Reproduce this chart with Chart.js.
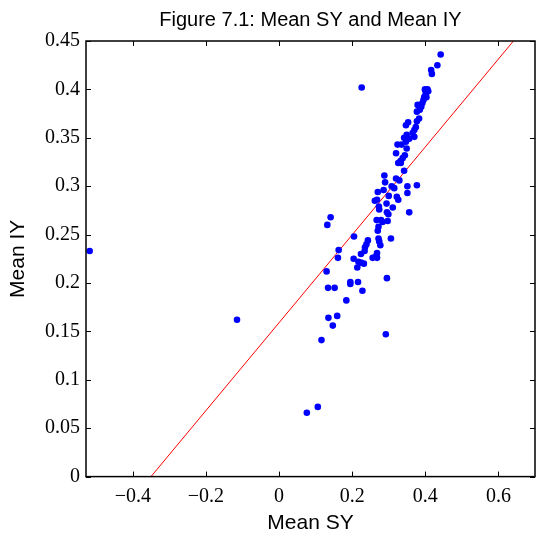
<!DOCTYPE html>
<html>
<head>
<meta charset="utf-8">
<script src="https://cdn.jsdelivr.net/npm/chart.js@4/dist/chart.umd.min.js"></script>
<style>
html,body{margin:0;padding:0;background:#fff;}
canvas{display:block;}
</style>
</head>
<body>
<canvas id="c" width="539" height="539"></canvas>
<script>
const meanSY = [0.442,0.433,0.416,0.418,0.226,0.399,0.406,0.401,0.408,0.401,0.397,0.403,0.395,0.392,0.379,0.389,0.385,0.377,0.383,0.377,0.353,0.347,0.374,0.370,0.365,0.370,0.349,0.342,0.356,0.347,0.335,0.324,0.349,0.320,0.344,0.338,0.332,0.326,0.333,0.342,0.288,0.320,0.329,0.290,0.351,0.377,0.308,0.315,0.270,0.286,0.351,0.300,0.322,0.326,0.268,0.262,0.294,0.273,0.274,0.311,0.295,0.299,0.356,0.141,0.132,0.267,0.279,0.283,0.297,0.272,0.270,0.205,0.243,0.239,0.235,0.234,0.224,0.272,0.274,0.277,0.306,0.163,0.161,0.268,0.266,0.256,0.268,0.204,0.217,0.224,0.232,0.214,0.130,0.295,0.195,0.195,0.216,0.134,0.152,0.228,0.184,0.135,0.159,0.147,0.116,0.292,0.076,0.106,-0.115,-0.518];
const meanIY = [0.436,0.425,0.420,0.416,0.402,0.400,0.400,0.398,0.398,0.395,0.392,0.392,0.389,0.386,0.384,0.382,0.379,0.377,0.370,0.367,0.366,0.363,0.361,0.358,0.355,0.351,0.353,0.350,0.349,0.346,0.343,0.343,0.339,0.334,0.332,0.329,0.326,0.324,0.324,0.316,0.311,0.308,0.306,0.304,0.300,0.301,0.300,0.298,0.294,0.296,0.293,0.290,0.289,0.286,0.286,0.285,0.282,0.279,0.276,0.278,0.273,0.271,0.273,0.268,0.260,0.265,0.265,0.263,0.264,0.258,0.254,0.248,0.244,0.240,0.237,0.233,0.230,0.246,0.243,0.239,0.246,0.234,0.226,0.231,0.228,0.226,0.226,0.225,0.222,0.221,0.220,0.216,0.212,0.205,0.201,0.199,0.201,0.195,0.195,0.192,0.182,0.164,0.166,0.156,0.141,0.147,0.066,0.072,0.162,0.233];
const fitSY = [-0.3502, 0.641];
const fitIY = [0, 0.45];
const xTicks = [-0.4,-0.2,0,0.2,0.4,0.6];
const yTicks = [0,0.05,0.1,0.15,0.2,0.25,0.3,0.35,0.4,0.45];
const xRange = [-0.528, 0.7];
const yRange = [0, 0.45];

const fmt = v => {
  const s = String(Number(Math.abs(v).toFixed(2)));
  return v < 0 ? '\u2212' + s : s;
};

const framePlugin = {
  id: 'frame',
  afterLayout(chart) {
    const t = chart.titleBlock;
    if (t) { t.left = chart.chartArea.left; t.right = chart.chartArea.right; }
  },
  afterDatasetsDraw(chart) {
    const {ctx, chartArea: a, scales: {x, y}} = chart;
    ctx.save();
    ctx.strokeStyle = '#000';
    ctx.lineWidth = 1;
    const L = 5;
    ctx.beginPath();
    x.ticks.forEach(tk => {
      const px = Math.round(x.getPixelForValue(tk.value)) + 0.5;
      ctx.moveTo(px, a.bottom); ctx.lineTo(px, a.bottom - L);
      ctx.moveTo(px, a.top); ctx.lineTo(px, a.top + L);
    });
    y.ticks.forEach(tk => {
      const py = Math.round(y.getPixelForValue(tk.value)) + 0.5;
      ctx.moveTo(a.left, py); ctx.lineTo(a.left + L, py);
      ctx.moveTo(a.right, py); ctx.lineTo(a.right - L, py);
    });
    ctx.stroke();
    ctx.lineWidth = 1.5;
    ctx.strokeRect(a.left, a.top, a.right - a.left, a.bottom - a.top);
    ctx.restore();
  }
};

new Chart(document.getElementById('c'), {
  type: 'scatter',
  data: {
    datasets: [
      {
        label: 'Mean SY vs Mean IY',
        data: meanSY.map((v, i) => ({x: v, y: meanIY[i]})),
        backgroundColor: '#0000ff',
        borderWidth: 0,
        pointRadius: 3.3,
        pointStyle: 'circle'
      },
      {
        type: 'line',
        label: 'Fit',
        data: fitSY.map((v, i) => ({x: v, y: fitIY[i]})),
        borderColor: '#ff0000',
        borderWidth: 1,
        pointRadius: 0,
        fill: false
      }
    ]
  },
  options: {
    responsive: false,
    animation: false,
    devicePixelRatio: 1,
    layout: {padding: {left: 0, right: 1.5, top: 0, bottom: 0}},
    plugins: {
      legend: {display: false},
      tooltip: {enabled: false},
      title: {
        display: true,
        text: 'Figure 7.1: Mean SY and Mean IY',
        color: '#000',
        font: {family: 'Liberation Sans, Arial, sans-serif', size: 20, weight: 'normal', lineHeight: 1.2},
        padding: {top: 8, bottom: 9}
      }
    },
    scales: {
      x: {
        type: 'linear',
        min: xRange[0], max: xRange[1],
        afterBuildTicks: s => { s.ticks = xTicks.map(v => ({value: v})); },
        afterFit: s => { s.height = 62.4; },
        grid: {display: false, drawTicks: false},
        border: {display: false},
        ticks: {
          color: '#000', padding: 8, maxRotation: 0, autoSkip: false,
          font: {family: 'Liberation Serif, Times New Roman, serif', size: 20},
          callback: v => fmt(v)
        },
        title: {
          display: true, text: 'Mean SY', color: '#000',
          font: {family: 'Liberation Sans, Arial, sans-serif', size: 21},
          padding: {top: 2, bottom: 3.6}
        }
      },
      y: {
        type: 'linear',
        min: yRange[0], max: yRange[1],
        afterBuildTicks: s => { s.ticks = yTicks.map(v => ({value: v})); },
        afterFit: s => { s.width = 86; },
        grid: {display: false, drawTicks: false},
        border: {display: false},
        ticks: {
          color: '#000', padding: 6, autoSkip: false,
          font: {family: 'Liberation Serif, Times New Roman, serif', size: 20},
          callback: v => fmt(v)
        },
        title: {
          display: true, text: 'Mean IY', color: '#000',
          font: {family: 'Liberation Sans, Arial, sans-serif', size: 21},
          padding: {top: 5.4, bottom: 4}
        }
      }
    }
  },
  plugins: [framePlugin]
});
</script>
</body>
</html>
